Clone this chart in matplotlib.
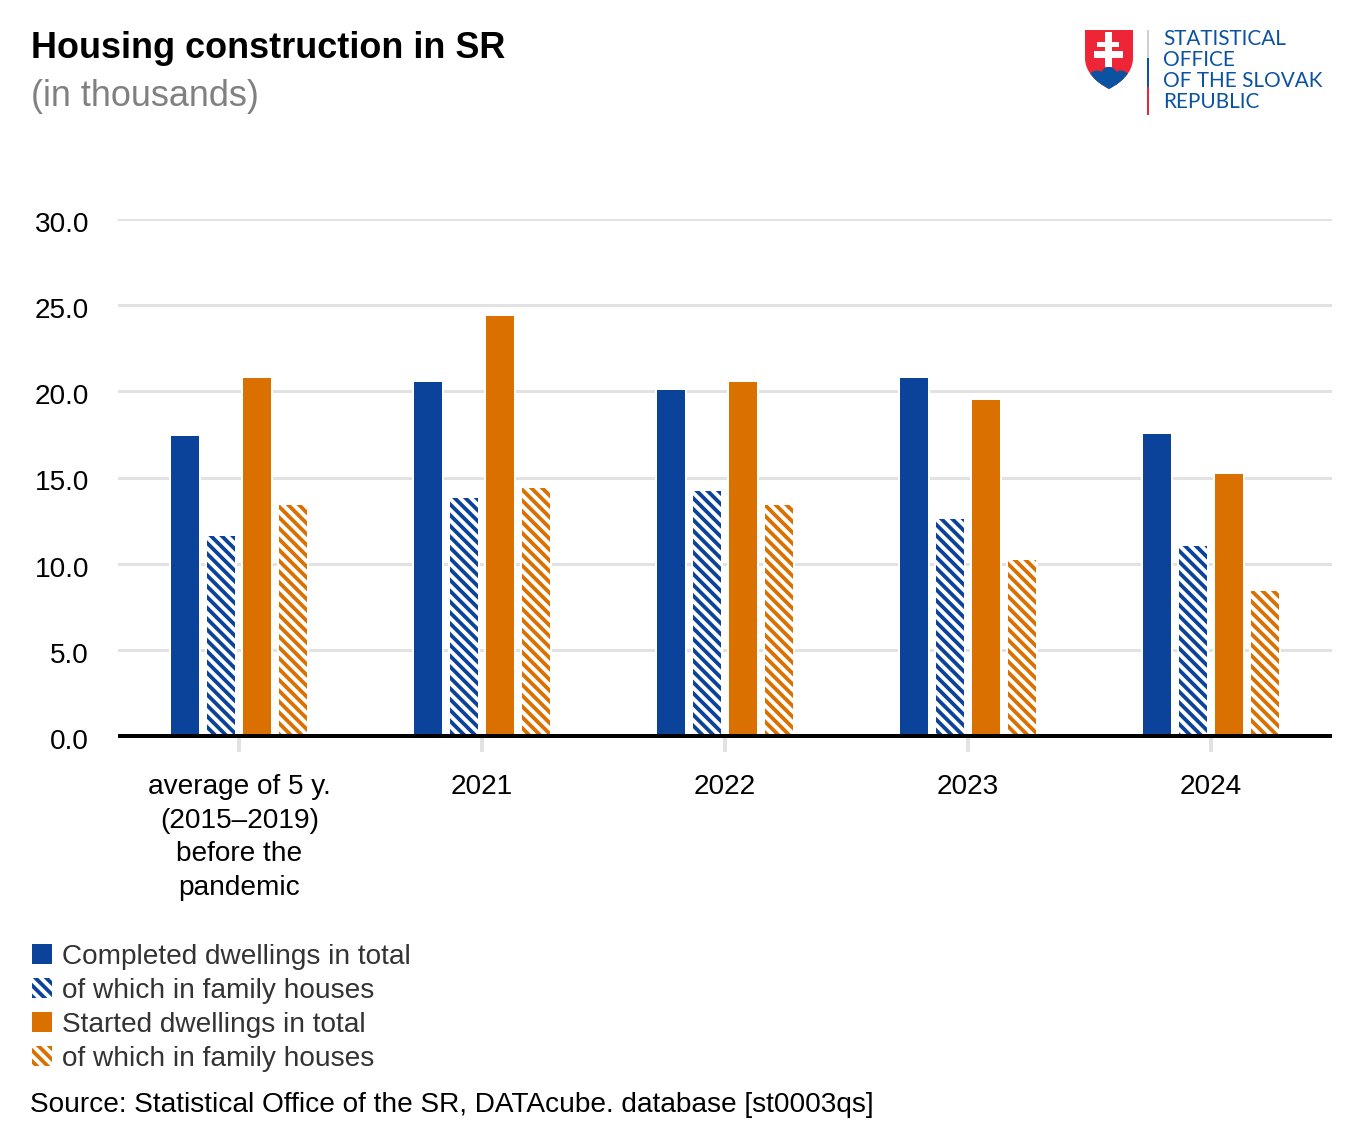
import matplotlib
matplotlib.use('Agg')
import matplotlib.pyplot as plt
from matplotlib.patches import PathPatch, Rectangle, Circle, Patch
from matplotlib.path import Path
from matplotlib.transforms import ScaledTranslation
import numpy as np

W, H = 1362, 1140
DPI = 130

def px(v):
    # pixels to points
    return v * 72 / DPI

plt.rcParams['font.family'] = ['Liberation Sans', 'DejaVu Sans']
plt.rcParams['hatch.linewidth'] = px(3.8)

categories = ['average of 5 y.\n(2015–2019)\nbefore the\npandemic', '2021', '2022', '2023', '2024']
completed = [17.4, 20.55, 20.1, 20.8, 17.5]
completed_family = [11.6, 13.8, 14.2, 12.6, 11.0]
started = [20.8, 24.4, 20.55, 19.5, 15.2]
started_family = [13.4, 14.4, 13.4, 10.2, 8.4]
yticks = [0, 5, 10, 15, 20, 25, 30]
labels = ['Completed dwellings in total', 'of which in family houses',
          'Started dwellings in total', 'of which in family houses']

BLUE = '#0b429a'
ORANGE = '#d97000'
HATCH = '\\' * 4

fig = plt.figure(figsize=(W / DPI, H / DPI), dpi=DPI, facecolor='white')
ax = fig.add_axes([118 / W, 1 - 736 / H, 1214 / W, (736 - 219) / H])
ax.set_xlim(-0.5, 4.5)
ax.set_ylim(0, 30)

x = np.arange(len(categories))
bw = 28 / 242.8
step = 36 / 242.8
series = [(completed, BLUE, False), (completed_family, BLUE, True),
          (started, ORANGE, False), (started_family, ORANGE, True)]
handles = []
for i, (vals, col, hatched) in enumerate(series):
    pos = x + (i - 1.5) * step
    # white gap round the bars cuts the grid lines
    ax.bar(pos, vals, width=bw + 4 / 242.8, color='white', linewidth=0, zorder=2)
    if hatched:
        ax.bar(pos, vals, width=bw, facecolor='white', edgecolor=col, hatch=HATCH, linewidth=0, zorder=3)
        handles.append(Patch(facecolor='white', edgecolor=col, hatch=HATCH, linewidth=0, label=labels[i]))
    else:
        ax.bar(pos, vals, width=bw, color=col, linewidth=0, zorder=3)
        handles.append(Patch(facecolor=col, linewidth=0, label=labels[i]))

ax.set_yticks(yticks)
ax.set_yticklabels(['%.1f' % v for v in yticks], fontsize=px(28), color='black')
ax.yaxis.grid(True, color='#e2e2e2', linewidth=px(3))
ax.set_axisbelow(True)
ax.tick_params(axis='y', length=0, pad=px(29))
for t in ax.get_yticklabels():
    t.set_transform(t.get_transform() + ScaledTranslation(0, -3 / DPI, fig.dpi_scale_trans))

ax.set_xticks(x)
ax.set_xticklabels(categories, fontsize=px(28), color='black', linespacing=1.385)
ax.tick_params(axis='x', length=px(16), width=px(4), color='#e2e2e2', pad=px(22))

for s in ['top', 'left', 'right']:
    ax.spines[s].set_visible(False)
ax.spines['bottom'].set_color('black')
ax.spines['bottom'].set_linewidth(px(4))
ax.spines['bottom'].set_capstyle('butt')
ax.spines['bottom'].set_zorder(5)

# title block and source
fig.text(31 / W, 1 - 58 / H, 'Housing construction in SR', fontsize=px(36), fontweight='bold', color='black')
fig.text(31 / W, 1 - 106 / H, '(in thousands)', fontsize=px(36), color='#808080')
fig.text(30 / W, 1 - 1112 / H, 'Source: Statistical Office of the SR, DATAcube. database [st0003qs]',
         fontsize=px(28), color='black')

fig.legend(handles=handles, loc='upper left', bbox_to_anchor=(32 / W, 1 - 944 / H),
           frameon=False, fontsize=px(28), labelcolor='#333333', borderpad=0, borderaxespad=0,
           handlelength=20 / 28, handleheight=20 / 28, handletextpad=10 / 28, labelspacing=0.286)

# logo, drawn on an overlay in pixel coordinates
ov = fig.add_axes([0, 0, 1, 1], facecolor='none')
ov.set_xlim(0, W)
ov.set_ylim(H, 0)
ov.axis('off')

shield = Path([(1085, 30), (1133, 30), (1133, 58), (1133, 72), (1122, 82), (1109, 89),
               (1096, 82), (1085, 72), (1085, 58), (1085, 30)],
              [Path.MOVETO, Path.LINETO, Path.LINETO, Path.CURVE4, Path.CURVE4, Path.CURVE4,
               Path.CURVE4, Path.CURVE4, Path.CURVE4, Path.LINETO])
sp = PathPatch(shield, facecolor='#ee2536', linewidth=0)
ov.add_patch(sp)
hills = [Rectangle((1085, 78), 48, 12, facecolor='#0b53a0', linewidth=0),
         Circle((1109, 75), 8, facecolor='#0b53a0', linewidth=0),
         Circle((1097, 79), 8.5, facecolor='#0b53a0', linewidth=0),
         Circle((1121, 79), 8.5, facecolor='#0b53a0', linewidth=0)]
for h in hills:
    ov.add_patch(h)
    h.set_clip_path(sp)
for r in [(1105, 32, 7, 35), (1097, 42, 22, 5), (1094, 51, 29, 7)]:
    ov.add_patch(Rectangle(r[:2], r[2], r[3], facecolor='white', linewidth=0))
ov.add_patch(Rectangle((1147, 30), 2, 28, facecolor='#cfcfcf', linewidth=0))
ov.add_patch(Rectangle((1147, 58), 2, 29, facecolor='#0b53a0', linewidth=0))
ov.add_patch(Rectangle((1147, 87), 2, 28, facecolor='#ee2536', linewidth=0))
for txt, yb in zip(['STATISTICAL', 'OFFICE', 'OF THE SLOVAK', 'REPUBLIC'], [45, 66, 87, 108]):
    ov.text(1163, yb, txt, fontsize=px(20.8), color='#0b53a0', family='Lato', va='baseline')

fig.savefig('out.png', dpi=DPI)
